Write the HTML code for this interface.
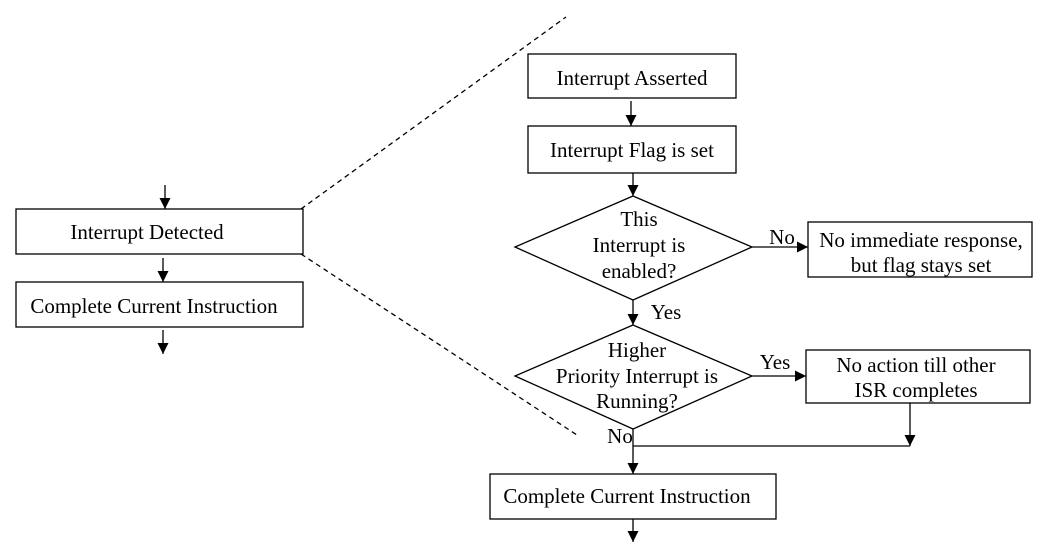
<!DOCTYPE html>
<html><head><style>body{margin:0;background:#fff}svg{display:block}text{font-family:"Liberation Serif",serif;font-size:21px;fill:#000}</style></head><body>
<svg width="1042" height="544" viewBox="0 0 1042 544">
<defs><marker id="a" markerWidth="12" markerHeight="12" refX="11" refY="5.5" orient="auto" markerUnits="userSpaceOnUse"><path d="M0,0 L11,5.5 L0,11z" fill="#000"/></marker></defs>
<g stroke="#000" stroke-width="1.3" fill="none">
<line x1="301" y1="209" x2="566" y2="17" stroke-dasharray="5,4"/>
<line x1="301" y1="254" x2="577" y2="435" stroke-dasharray="5,4"/>
<rect x="16" y="209" width="287" height="45"/>
<rect x="16" y="282" width="287" height="45"/>
<line x1="165" y1="185" x2="165" y2="209" marker-end="url(#a)"/>
<line x1="163" y1="258" x2="163" y2="282" marker-end="url(#a)"/>
<line x1="163" y1="330" x2="163" y2="354" marker-end="url(#a)"/>
<rect x="528" y="54" width="208" height="44"/>
<rect x="528" y="126" width="208" height="47"/>
<line x1="631" y1="101" x2="631" y2="126" marker-end="url(#a)"/>
<line x1="633" y1="173" x2="633" y2="196" marker-end="url(#a)"/>
<polygon points="633,196 752,247 633,300 515,247"/>
<line x1="752" y1="247" x2="808" y2="247" marker-end="url(#a)"/>
<rect x="808" y="222" width="224" height="55"/>
<line x1="633" y1="300" x2="633" y2="325" marker-end="url(#a)"/>
<polygon points="633,325 752,376 633,429 515,376"/>
<line x1="752" y1="376" x2="806" y2="376" marker-end="url(#a)"/>
<rect x="806" y="350" width="224" height="53"/>
<line x1="910" y1="403" x2="910" y2="446" marker-end="url(#a)"/>
<line x1="633" y1="446" x2="910" y2="446"/>
<line x1="633" y1="429" x2="633" y2="474" marker-end="url(#a)"/>
<rect x="490" y="474" width="286" height="45"/>
<line x1="633" y1="519" x2="633" y2="542" marker-end="url(#a)"/>
</g>
<g text-anchor="middle">
<text x="147" y="239">Interrupt Detected</text>
<text x="154" y="313">Complete Current Instruction</text>
<text x="632" y="85">Interrupt Asserted</text>
<text x="632" y="157">Interrupt Flag is set</text>
<text x="639" y="226">This</text>
<text x="639" y="252">Interrupt is</text>
<text x="639" y="278">enabled?</text>
<text x="782" y="244">No</text>
<text x="921" y="247">No immediate response,</text>
<text x="921" y="272">but flag stays set</text>
<text x="666" y="319">Yes</text>
<text x="637" y="357">Higher</text>
<text x="637" y="383">Priority Interrupt is</text>
<text x="637" y="408">Running?</text>
<text x="775" y="369">Yes</text>
<text x="916" y="372">No action till other</text>
<text x="916" y="397">ISR completes</text>
<text x="620" y="443">No</text>
<text x="627" y="503">Complete Current Instruction</text>
</g>
</svg>
</body></html>
